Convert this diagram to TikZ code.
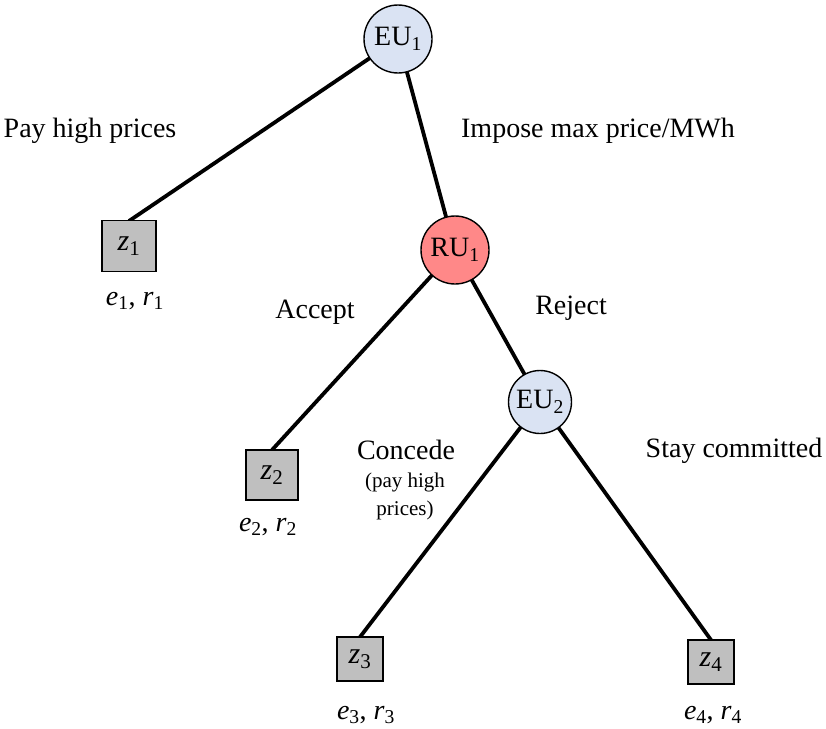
\documentclass[tikz,border=0pt]{standalone}
\usepackage{fontspec}
\setmainfont{Liberation Serif}
\begin{document}
\begin{tikzpicture}[x=1pt,y=-1pt,
  dec/.style={circle,draw=black,line width=1.4pt,minimum size=68pt,inner sep=0pt,font=\fontsize{28}{30}\selectfont},
  eu/.style={dec,fill=euc},
  ru/.style={dec,fill=ruc},
  term/.style={rectangle,draw=black,line width=1.4pt,fill=boxc,inner sep=0pt,font=\fontsize{30}{32}\selectfont},
  lbl/.style={font=\fontsize{28}{32}\selectfont,inner sep=0pt},
  sml/.style={font=\fontsize{21}{28}\selectfont,inner sep=0pt,align=center},
  edge/.style={line width=3.8pt}]
\definecolor{euc}{RGB}{218,227,243}
\definecolor{ruc}{RGB}{255,136,136}
\definecolor{boxc}{RGB}{191,191,191}
\useasboundingbox (0,0) rectangle (826,728);
\draw[edge] (398,39) -- (129,221);
\draw[edge] (398,39) -- (455,250);
\draw[edge] (455,250) -- (272,450);
\draw[edge] (455,250) -- (540,402);
\draw[edge] (540,402) -- (360,637);
\draw[edge] (540,402) -- (711,640);
\node[eu] (eu1) at (398,39) {EU\textsubscript{1}};
\node[ru] (ru1) at (455,250) {RU\textsubscript{1}};
\node[eu,minimum size=63pt] (eu2) at (540,402) {EU\textsubscript{2}};
\node[term,minimum width=54pt,minimum height=51pt] (z1) at (129,246) {\textit{z}\textsubscript{1}};
\node[term,minimum width=52pt,minimum height=50pt] (z2) at (272,475) {\textit{z}\textsubscript{2}};
\node[term,minimum width=46pt,minimum height=44pt] (z3) at (360,659) {\textit{z}\textsubscript{3}};
\node[term,minimum width=46pt,minimum height=44pt] (z4) at (711,662) {\textit{z}\textsubscript{4}};
\node[lbl] (l1) at (135,301) {\textit{e}\textsubscript{1}, \textit{r}\textsubscript{1}};
\node[lbl] (l2) at (268,527) {\textit{e}\textsubscript{2}, \textit{r}\textsubscript{2}};
\node[lbl] (l3) at (366,715) {\textit{e}\textsubscript{3}, \textit{r}\textsubscript{3}};
\node[lbl] (l4) at (713,715) {\textit{e}\textsubscript{4}, \textit{r}\textsubscript{4}};
\node[lbl] (a1) at (90,131) {Pay high prices};
\node[lbl] (a2) at (598,131) {Impose max price/MWh};
\node[lbl] (a3) at (315,312) {Accept};
\node[lbl] (a4) at (571,308) {Reject};
\node[lbl] (a5) at (406,450) {Concede};
\node[sml] (a6) at (405,496) {(pay high\\prices)};
\node[lbl] (a7) at (734,451) {Stay committed};
\end{tikzpicture}
\end{document}
